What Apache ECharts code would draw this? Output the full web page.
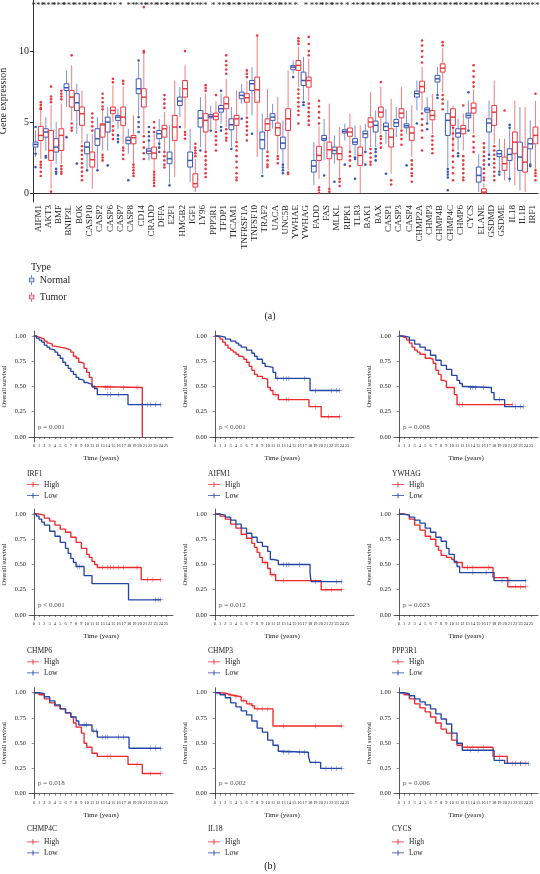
<!DOCTYPE html>
<html><head><meta charset="utf-8">
<script src="https://cdn.jsdelivr.net/npm/echarts@6/dist/echarts.min.js"></script>
<style>html,body{margin:0;padding:0;background:#fff}#c{width:540px;height:874px}</style>
</head><body><div id="c"></div>
<script>
// ---------------- Panel (a): expression boxplots ----------------
const genes = ['AIFM1','AKT3','BMF','BNIP3L','BOK','CASP10','CASP2','CASP6','CASP7','CASP8','CD14','CRADD','DFFA','E2F1','HMGB2','IGF1','LY96','PPP3R1','TFDP1','TICAM1','TNFRSF1A','TNFSF10','TRAF2','UACA','UNC5B','YWHAE','YWHAG','FADD','FAS','MLKL','RIPK1','TLR3','BAK1','BAX','CASP1','CASP3','CASP4','CHMP2A','CHMP3','CHMP4B','CHMP4C','CHMP6','CYCS','ELANE','GSDMD','GSDME','IL18','IL1B','IRF1'];
const significance = ['***','***','***','***','***','***','***','***','*','**','***','***','***','***','***','***','**','*','***','***','***','**','***','***','***','*','*','***','***','***','*','***','***','***','***','***','***','***','***','***','***','***','***','***','***','***','***','**','***'];
// [lower whisker, Q1, median, Q3, upper whisker]
const normalStats = [[2.54,3.24,3.43,3.59,4.41],[3.0,3.94,4.3,4.53,5.35],[2.07,2.89,3.24,3.83,5.0],[6.06,7.23,7.42,7.7,8.64],[4.18,5.82,6.36,7.0,7.7],[1.71,2.77,3.24,3.59,4.18],[1.71,3.36,3.83,4.53,5.35],[3.0,4.3,5.0,5.35,6.06],[4.53,5.12,5.35,5.47,5.94],[2.77,3.47,3.71,3.94,4.53],[5.47,7.0,7.35,8.05,9.2],[2.3,2.77,2.96,3.12,3.6],[3.24,3.83,4.18,4.41,5.23],[0.66,2.07,2.42,2.89,4.77],[5.35,6.17,6.48,6.76,7.46],[0.77,1.83,2.3,2.89,4.53],[3.24,4.65,5.28,5.82,6.76],[4.53,5.3,5.4,5.52,6.17],[4.88,5.7,5.94,6.17,7.0],[3.24,4.46,4.81,5.23,6.06],[6.29,6.64,6.88,7.11,7.7],[5.47,7.23,7.7,7.93,8.87],[1.36,3.12,3.76,4.3,5.59],[4.53,5.12,5.35,5.59,6.29],[2.07,3.12,3.52,3.94,5.12],[8.4,8.69,8.87,8.99,9.34],[6.52,7.58,7.93,8.52,9.58],[0.54,1.48,1.9,2.3,3.59],[2.3,3.71,3.83,4.06,5.23],[2.07,2.77,3.0,3.24,4.06],[3.71,4.23,4.34,4.46,4.88],[2.65,3.43,3.59,3.83,4.77],[3.0,3.9,4.18,4.37,4.88],[3.24,4.3,4.77,5.07,5.82],[3.47,4.41,4.69,4.93,5.94],[3.94,4.69,4.95,5.19,6.06],[4.18,4.6,4.74,4.88,5.82],[5.82,6.76,7.0,7.18,7.93],[5.0,5.7,5.87,6.0,6.76],[7.0,7.82,8.05,8.29,8.87],[1.83,4.06,5.12,5.59,6.52],[3.0,3.94,4.23,4.53,5.23],[4.53,5.3,5.47,5.63,6.52],[0.07,0.77,1.24,1.83,2.77],[2.77,4.3,4.93,5.23,6.52],[1.6,2.58,2.77,3.0,3.83],[0.77,2.3,2.72,3.12,4.6],[0.19,1.6,2.54,3.59,6.06],[2.07,3.12,3.47,3.83,5.12]];
const tumorStats = [[2.4,3.7,4.06,4.7,5.8],[0.3,2.3,3.0,4.4,6.2],[2.07,3.0,4.06,4.53,6.3],[5.1,6.06,6.76,7.23,9.0],[3.47,4.77,5.59,6.06,7.23],[0.3,1.83,2.35,2.89,4.18],[3.0,3.94,4.8,4.88,5.82],[5.0,5.59,5.82,6.06,7.6],[3.47,4.77,5.35,6.06,7.5],[2.07,3.47,3.9,4.06,5.47],[4.18,6.06,6.76,7.35,9.8],[1.6,2.42,2.82,3.24,4.18],[3.0,3.94,4.53,4.77,5.7],[1.13,3.71,4.65,5.47,7.93],[4.53,6.76,7.35,7.93,9.0],[0.07,0.42,0.66,1.36,2.4],[3.0,4.3,5.12,5.59,7.0],[4.41,5.16,5.4,5.63,6.5],[4.65,5.94,6.29,6.76,8.05],[3.71,4.77,5.23,5.47,7.23],[5.47,6.4,6.71,7.0,7.9],[2.54,6.4,7.28,8.17,11.0],[3.0,4.41,4.88,5.23,7.35],[2.77,4.06,4.6,4.93,6.76],[1.6,4.41,5.23,5.94,8.64],[7.46,8.64,8.99,9.34,10.3],[6.52,7.46,7.93,8.17,9.46],[1.0,2.3,2.65,3.29,4.7],[0.42,2.42,3.05,3.59,6.29],[1.13,2.35,2.77,3.24,4.65],[3.0,4.0,4.3,4.58,5.59],[0.0,1.95,2.65,3.24,4.77],[3.24,4.65,5.0,5.3,7.11],[4.18,5.35,5.7,6.06,7.5],[1.36,3.24,3.94,4.53,6.64],[4.53,5.3,5.63,5.94,7.46],[2.54,3.71,4.23,4.65,6.17],[5.82,7.11,7.5,7.88,8.9],[4.18,5.16,5.47,5.82,7.0],[7.11,8.52,8.8,9.1,10.2],[3.0,4.77,5.35,5.94,6.17],[3.0,4.18,4.53,4.77,5.6],[4.18,5.63,5.99,6.34,7.3],[0.0,0.0,0.07,0.3,0.7],[3.47,4.77,5.7,6.17,7.93],[0.9,1.6,2.07,2.54,3.83],[0.54,2.77,3.59,4.3,6.52],[0.07,1.48,2.18,3.24,6.06],[1.71,3.47,4.06,4.65,6.5]];
const normalOutliers = [[4.65,2.77,1.83],[2.5,2.6],[1.7,1.5,1.36],[3.94],[2.07],[1.6],[1.6],[1.95],[4.06,3.8,3.59],[0.9],[9.34,5.35,5.0,4.65,4.3],[4.65,4.3,4.0,3.7],[3.47,3.2,2.89],[0.54],[4.65],[],[3.0],[4.4],[4.65,4.4,7.2],[3.1],[5.23],[4.18],[1.2],[],[2.0,1.8,1.6,1.4],[8.17],[6.4,6.2],[],[1.24],[0.8],[2.0],[2.5,2.4,1.0],[2.9,2.0],[3.1,2.9,2.6,2.3],[1.36],[],[1.95],[4.9],[4.9,4.5],[6.9,6.7],[1.7,1.5,1.3,1.1,0.2],[2.8,2.6],[7.1,4.4],[],[2.7,2.4,2.0],[1.5,1.3],[4.8,4.6,1.0],[],[2.0,1.9]];
const tumorOutliers = [[6.4,6.2,6.0,5.9,2.2,2.0,1.8,1.5,1.2],[7.5,6.8,6.6,6.4,0.1],[7.2,7.0,6.8,6.6,1.9,1.7,1.5,1.36],[9.7,4.9,4.6,4.4],[3.3,3.0,2.7,2.4,2.1,1.8,1.5,1.2,0.9],[5.6,5.3,5.0,4.7,4.4],[7.0,6.7,6.4,6.1,5.9,2.7,2.5,2.3],[8.05,7.8,4.7,4.4,4.1,3.8],[7.9,7.7,3.2,3.0,2.7,2.4],[2.0,1.8,1.6,1.4,1.2],[13.1,10.0,9.9,4.0,3.6,3.2,2.8,2.4],[5.0,4.6,4.3,1.5,1.3,1.1,0.9,0.7,0.5],[6.9,6.6,6.3,6.0,2.9,2.6,2.3,2.0,1.8],[],[10.0,4.3,4.1,3.83],[3.47,3.2,3.0,2.8,2.6],[7.6,7.4,7.2,2.9,2.6,2.3,2.0,1.7,1.4,1.13],[6.9,4.3,4.0,3.7,3.4,3.0],[9.7,9.3,9.0,8.7,8.4,4.5,4.2,3.9,3.7],[3.6,3.3,3.0,2.6,2.2,1.8,1.4,1.1,0.9],[8.64,8.4,8.17,5.3,5.0,4.7,4.4,4.1,3.7],[11.1],[2.9,2.6,2.3,2.0,1.83],[2.6,2.4,2.1],[1.45,1.35],[10.9,10.7,10.5,7.3,7.0,6.7,6.4,6.1,5.8,5.5,4.9],[11.0,10.5,10.0,9.7,6.3,6.0,5.7,5.4,5.1,4.8],[6.5,6.1,5.7,5.3,4.9,0.4,0.2,0.0],[0.3,0.1],[1.0,0.8,0.5],[2.9,2.6,2.3,1.9],[],[3.1,2.8,2.5,2.2,2.0],[7.82,4.0,3.8,3.5,3.2],[0.9,0.6],[4.4,4.1,3.8,3.4],[2.3,2.0,1.7,1.4,1.2,0.8],[10.75,10.4,10.0,9.6,9.2,5.6,5.2,4.8,4.4,3.9,3.0],[4.0,3.7,3.4,3.1,2.8],[10.63,10.4,6.9,6.6,6.3,5.9],[4.6,4.2,3.8,3.4,3.0,2.6,2.2,1.8,1.4,0.9],[6.17,2.6,2.3,2.0,1.7,1.4,1.1,0.9],[9.0,8.6,8.2,7.8,7.5,4.0,3.6,3.2,2.9],[3.5,3.2,2.9,2.6,2.3,2.0,1.7,1.4,1.1,0.9],[3.3,3.0,2.7,2.4,2.1,1.8,1.5,1.2,0.9],[5.82],[],[],[7.0,1.6,1.4,1.2,0.9]];
const exprTicks = [0, 5, 10];

// ---------------- Panel (b): Kaplan-Meier curves ----------------
const kmGenes = ['IRF1','AIFM1','YWHAG','CHMP6','CHMP3','PPP3R1','CHMP4C','IL18','CYCS'];
const kmPValues = ['p = 0.001','p < 0.001','p = 0.008','p < 0.001','p = 0.012','p = 0.023','p = 0.018','p = 0.002','p = 0.006'];
const kmTimeTicks = [0,1,2,3,4,5,6,7,8,9,10,11,12,13,14,15,16,17,18,19,20,21,22,23,24,25];
const kmSurvTicks = [0, 0.25, 0.5, 0.75, 1];

const irf1High = [[0,1],[0.5,0.99],[1,0.98],[1.5,0.97],[2,0.95],[2.5,0.93],[3,0.92],[3.5,0.9],[4,0.89],[5,0.88],[6,0.87],[6.5,0.86],[7,0.84],[7.5,0.8],[8,0.78],[8.5,0.74],[9,0.73],[9.5,0.68],[10,0.64],[10.5,0.59],[11,0.5],[11.2,0.49],[20.5,0]];
const irf1Low = [[0,1],[0.5,0.98],[1,0.96],[1.5,0.94],[2,0.91],[2.5,0.89],[3,0.87],[3.5,0.86],[4,0.84],[4.5,0.81],[5,0.78],[5.5,0.74],[6,0.71],[6.5,0.68],[7,0.65],[7.5,0.62],[8,0.59],[8.5,0.57],[9,0.56],[9.5,0.54],[10,0.53],[10.5,0.52],[11,0.5],[11.5,0.48],[12,0.42],[17.8,0.32],[24,0.32]];
const irf1HighCens = [[11.5,0.49],[13.5,0.49],[14,0.49],[14.5,0.49],[17,0.49],[19.5,0.49]];
const irf1LowCens = [[14,0.42],[14.5,0.42],[16,0.42],[20.5,0.32],[21.5,0.32],[22,0.32],[23,0.32],[24,0.32]];

const aifm1High = [[0,1],[0.5,0.99],[1,0.97],[1.5,0.94],[2,0.91],[2.5,0.88],[3,0.86],[3.5,0.84],[4,0.82],[4.5,0.8],[5,0.79],[5.5,0.77],[6,0.74],[6.5,0.7],[7,0.66],[7.5,0.62],[8,0.6],[9,0.58],[9.5,0.57],[10,0.49],[10.5,0.46],[11,0.42],[12,0.37],[17.8,0.3],[20.1,0.2],[23.6,0.2]];
const aifm1Low = [[0,1],[1,0.99],[2,0.97],[3,0.95],[4,0.93],[4.5,0.91],[5,0.89],[6,0.86],[7,0.83],[7.5,0.8],[8,0.77],[9,0.73],[9.5,0.7],[10,0.69],[11,0.64],[11.5,0.58],[18,0.46],[23.6,0.46]];
const aifm1HighCens = [[11.5,0.42],[13.5,0.37],[14,0.37],[19,0.3],[21.5,0.2],[23.6,0.2]];
const aifm1LowCens = [[11.8,0.58],[13,0.58],[13.5,0.58],[14,0.58],[17,0.58],[19,0.46],[22,0.46],[23,0.46],[23.6,0.46]];

const ywhagHigh = [[0,1],[0.5,0.99],[1,0.98],[1.5,0.96],[2,0.93],[2.5,0.89],[3,0.86],[3.5,0.84],[4,0.82],[5,0.78],[6,0.77],[6.5,0.73],[7,0.66],[7.5,0.62],[8,0.56],[8.5,0.55],[9,0.49],[10.5,0.42],[11,0.32],[21.5,0.32]];
const ywhagLow = [[0,1],[1,0.99],[2,0.96],[3,0.92],[4,0.89],[5,0.86],[6,0.81],[7,0.76],[8,0.71],[9,0.67],[10,0.61],[11,0.56],[11.5,0.53],[12,0.5],[12.5,0.49],[17.5,0.44],[18,0.37],[20,0.3],[23.5,0.3]];
const ywhagHighCens = [[11.5,0.32],[12,0.32],[20,0.32],[21.5,0.32]];
const ywhagLowCens = [[13.5,0.49],[14,0.49],[14.5,0.49],[16,0.49],[19,0.37],[22,0.3],[23,0.3],[23.5,0.3]];

const chmp6High = [[0,1],[1,0.99],[2,0.96],[3,0.93],[4,0.89],[5,0.85],[6,0.82],[7,0.77],[8,0.72],[9,0.66],[10,0.6],[10.5,0.57],[11,0.53],[11.5,0.5],[12,0.47],[20.3,0.35],[24,0.35]];
const chmp6Low = [[0,1],[0.5,0.98],[1,0.95],[1.5,0.92],[2,0.89],[3,0.83],[4,0.78],[5,0.72],[6,0.66],[6.5,0.61],[7,0.56],[7.5,0.52],[8,0.48],[9.5,0.39],[11,0.31],[17.9,0.15],[24,0.15]];
const chmp6HighCens = [[13,0.47],[14,0.47],[14.5,0.47],[15,0.47],[16,0.47],[17,0.47],[19.5,0.47],[21.5,0.35],[22.5,0.35],[24,0.35]];
const chmp6LowCens = [[8.2,0.48],[8.7,0.48],[23,0.15],[23.5,0.15],[24,0.15]];

const chmp3High = [[0,1],[1,0.98],[2,0.95],[3,0.9],[4,0.86],[5,0.8],[6,0.76],[7,0.71],[7.5,0.67],[8,0.62],[8.5,0.57],[9,0.52],[10,0.46],[10.5,0.4],[11.5,0.34],[20.1,0.25],[24,0.25]];
const chmp3Low = [[0,1],[1,0.99],[2,0.97],[3,0.94],[4,0.9],[5,0.86],[6,0.81],[7,0.77],[8,0.72],[9,0.68],[10,0.63],[10.5,0.55],[11,0.54],[12,0.5],[18,0.41],[18.2,0.33],[24,0.33]];
const chmp3HighCens = [[9.5,0.52],[10.8,0.4],[11.2,0.4],[13,0.34],[21,0.25],[22,0.25],[24,0.25]];
const chmp3LowCens = [[13,0.5],[13.5,0.5],[14,0.5],[16,0.5],[19,0.33],[23,0.33],[24,0.33]];

const ppp3r1High = [[0,1],[1,0.99],[2,0.95],[3,0.89],[4,0.84],[5,0.78],[6,0.75],[7,0.68],[7.5,0.64],[8,0.59],[9,0.57],[10,0.55],[10.5,0.52],[12,0.47],[17.8,0.37],[20.6,0.28],[24,0.28]];
const ppp3r1Low = [[0,1],[1,0.99],[2,0.97],[3,0.94],[4,0.91],[5,0.86],[6,0.82],[7,0.77],[8,0.73],[9,0.66],[9.5,0.6],[10.5,0.53],[11,0.48],[11.5,0.42],[18,0.34],[24,0.34]];
const ppp3r1HighCens = [[13,0.47],[14,0.47],[17,0.47],[22,0.28],[23,0.28],[24,0.28]];
const ppp3r1LowCens = [[14,0.42],[16.5,0.42],[19.5,0.34],[21,0.34],[24,0.34]];

const chmp4cHigh = [[0,1],[1,0.98],[2,0.94],[3,0.9],[4,0.87],[5,0.84],[6,0.8],[7,0.76],[7.5,0.7],[8,0.66],[9,0.6],[9.5,0.5],[10,0.46],[11,0.4],[12,0.37],[17.8,0.29],[20.5,0.2],[24,0.2]];
const chmp4cLow = [[0,1],[1,0.99],[2,0.96],[3,0.92],[4,0.88],[5,0.84],[6,0.8],[7,0.76],[8,0.72],[8.5,0.68],[11,0.62],[12,0.56],[18,0.45],[24,0.45]];
const chmp4cHighCens = [[14,0.37],[14.5,0.37],[19.5,0.29],[22,0.2],[24,0.2]];
const chmp4cLowCens = [[9.5,0.68],[10,0.68],[11.3,0.62],[11.8,0.62],[13,0.56],[13.5,0.56],[14,0.56],[16,0.56],[17,0.56],[22,0.45],[23,0.45],[24,0.45]];

const il18High = [[0,1],[1,0.995],[2,0.98],[3,0.97],[4,0.96],[5,0.92],[6,0.89],[7,0.87],[7.5,0.84],[11,0.67],[24,0.67]];
const il18Low = [[0,1],[1,0.98],[2,0.95],[3,0.9],[4,0.86],[5,0.82],[6,0.78],[7,0.72],[8,0.65],[9,0.61],[10,0.53],[11,0.48],[12,0.42],[12.5,0.41],[17.7,0.37],[18,0.31],[20,0.25],[24,0.25]];
const il18HighCens = [[3,0.97],[4,0.96],[5.5,0.92],[6.5,0.89],[7.2,0.87],[8,0.84],[9,0.84],[10,0.84],[13,0.67],[19,0.67],[24,0.67]];
const il18LowCens = [[13,0.41],[14,0.41],[16,0.41],[17,0.41],[19,0.31],[21,0.25],[22,0.25],[23,0.25],[24,0.25]];

const cycsHigh = [[0,1],[1,0.98],[2,0.94],[3,0.89],[4,0.85],[5,0.81],[6,0.76],[7,0.7],[8,0.64],[9,0.6],[10,0.53],[11,0.48],[12,0.46],[17.8,0.37],[20.5,0.3],[24,0.3]];
const cycsLow = [[0,1],[1,0.99],[2,0.97],[3,0.94],[4,0.91],[5,0.88],[6,0.84],[7,0.79],[8,0.74],[9,0.69],[10,0.6],[11,0.5],[12,0.43],[18,0.33],[20,0.3],[24.5,0.3]];
const cycsHighCens = [[13,0.46],[14,0.46],[16,0.46],[19,0.37],[21.5,0.3],[23,0.3],[24,0.3]];
const cycsLowCens = [[13.5,0.43],[15,0.43],[19,0.33],[22,0.3],[23,0.3],[24.5,0.3]];

const kmHigh = [irf1High, aifm1High, ywhagHigh, chmp6High, chmp3High, ppp3r1High, chmp4cHigh, il18High, cycsHigh];
const kmLow = [irf1Low, aifm1Low, ywhagLow, chmp6Low, chmp3Low, ppp3r1Low, chmp4cLow, il18Low, cycsLow];
const kmHighCens = [irf1HighCens, aifm1HighCens, ywhagHighCens, chmp6HighCens, chmp3HighCens, ppp3r1HighCens, chmp4cHighCens, il18HighCens, cycsHighCens];
const kmLowCens = [irf1LowCens, aifm1LowCens, ywhagLowCens, chmp6LowCens, chmp3LowCens, ppp3r1LowCens, chmp4cLowCens, il18LowCens, cycsLowCens];

// ---------------- styling / layout ----------------
const SERIF = "'Liberation Serif','DejaVu Serif',serif";
const TXT = '#222';
const BLUE_BOX = '#3a59b6', RED_BOX = '#e9383d';
const BLUE_WH = '#7f95d2', RED_WH = '#f07f82';
const KM_RED = '#ec2a2e', KM_BLUE = '#2646a6';
const kmCols = [29, 210, 394];
const kmRows = [331, 509, 687.7];
const kmLegendTitleY = [474.3, 651, 829.3];
const kmHighY = [484.3, 661.7, 841.7];
const plusIcon = 'path://M0,2.6H12V3.4H0Z M5.55,0.4H6.45V5.6H5.55Z';
const censorSymbol = 'path://M0,4.6H10V5.4H0Z M4.5,0H5.5V10H4.5Z';
const boxIcon = 'path://M0,4H8V11H0Z M1.2,5.2V9.8H6.8V5.2Z M1,7.1H7V7.9H1Z M3.5,0H4.5V4H3.5Z M3.5,11H4.5V15H3.5Z';

function boxRenderer(dx, stroke, whisker) {
  return function (params, api) {
    const i = api.value(0);
    const lo = api.coord([i, api.value(1)]);
    const q1 = api.coord([i, api.value(2)]);
    const md = api.coord([i, api.value(3)]);
    const q3 = api.coord([i, api.value(4)]);
    const hi = api.coord([i, api.value(5)]);
    const cx = lo[0] + dx, hw = 2.4;
    return { type: 'group', children: [
      { type: 'line', shape: { x1: cx, y1: hi[1], x2: cx, y2: q3[1] }, style: { stroke: whisker, lineWidth: 1 } },
      { type: 'line', shape: { x1: cx, y1: q1[1], x2: cx, y2: lo[1] }, style: { stroke: whisker, lineWidth: 1 } },
      { type: 'rect', shape: { x: cx - hw, y: q3[1], width: hw * 2, height: Math.max(q1[1] - q3[1], 1) }, style: { fill: '#fff', stroke: stroke, lineWidth: 1 } },
      { type: 'line', shape: { x1: cx - hw, y1: md[1], x2: cx + hw, y2: md[1] }, style: { stroke: stroke, lineWidth: 1.5 } }
    ] };
  };
}

const grids = [{ left: 33, top: 0, width: 505, height: 202, outerBoundsMode: 'none' }];
const xAxes = [
  { type: 'category', gridIndex: 0, data: genes,
    axisLine: { lineStyle: { color: '#333', width: 1 } },
    axisTick: { alignWithLabel: true, length: 3, lineStyle: { color: '#333' }, interval: 0 },
    axisLabel: { interval: 0, rotate: 90, fontSize: 9, fontFamily: SERIF, color: TXT, margin: 3 },
    splitLine: { show: false } },
  { type: 'category', gridIndex: 0, position: 'top', data: genes,
    axisLine: { show: false }, axisTick: { show: false }, splitLine: { show: false },
    axisLabel: { inside: true, interval: 0, margin: 1.5, fontSize: 9, fontFamily: SERIF, color: TXT,
      formatter: function (v, i) { return significance[i]; } } }
];
const yAxes = [
  { type: 'value', gridIndex: 0, min: -0.63, max: 13.6,
    name: 'Gene expression', nameLocation: 'middle', nameGap: 15,
    nameTextStyle: { fontSize: 10, fontFamily: SERIF, color: TXT },
    axisLine: { show: true, lineStyle: { color: '#333', width: 1 } },
    axisTick: { show: true, customValues: exprTicks, length: 3, lineStyle: { color: '#333' } },
    axisLabel: { customValues: exprTicks, fontSize: 10, fontFamily: SERIF, color: TXT, margin: 4 },
    splitLine: { show: false } }
];

const series = [
  { type: 'custom', name: 'Normal', xAxisIndex: 0, yAxisIndex: 0, itemStyle: { color: BLUE_BOX },
    renderItem: boxRenderer(-2.6, BLUE_BOX, BLUE_WH), encode: { x: 0, y: [1, 2, 3, 4, 5] },
    data: normalStats.map(function (s, i) { return [i].concat(s); }), z: 2 },
  { type: 'custom', name: 'Tumor', xAxisIndex: 0, yAxisIndex: 0, itemStyle: { color: RED_BOX },
    renderItem: boxRenderer(2.6, RED_BOX, RED_WH), encode: { x: 0, y: [1, 2, 3, 4, 5] },
    data: tumorStats.map(function (s, i) { return [i].concat(s); }), z: 2 },
  { type: 'scatter', name: 'Normal outliers', xAxisIndex: 0, yAxisIndex: 0, symbolSize: 2.6, symbolOffset: [-2.6, 0],
    itemStyle: { color: BLUE_BOX, opacity: 1 }, z: 3, silent: true,
    data: [].concat.apply([], normalOutliers.map(function (arr, i) { return arr.map(function (v) { return [i, v]; }); })) },
  { type: 'scatter', name: 'Tumor outliers', xAxisIndex: 0, yAxisIndex: 0, symbolSize: 2.6, symbolOffset: [2.6, 0],
    itemStyle: { color: RED_BOX, opacity: 1 }, z: 3, silent: true,
    data: [].concat.apply([], tumorOutliers.map(function (arr, i) { return arr.map(function (v) { return [i, v]; }); })) }
];

const legends = [
  { left: 29, top: 275, orient: 'vertical', padding: 0, itemGap: 7, itemWidth: 6, itemHeight: 10,
    selectedMode: false,
    textStyle: { fontFamily: SERIF, fontSize: 10, color: TXT },
    data: [{ name: 'Normal', icon: boxIcon, itemStyle: { color: BLUE_BOX } }, { name: 'Tumor', icon: boxIcon, itemStyle: { color: RED_BOX } }] }
];
const graphics = [
  { type: 'text', x: 31, y: 267, style: { text: 'Type', font: '10px ' + SERIF, fill: TXT, textAlign: 'left', textVerticalAlign: 'middle' } },
  { type: 'text', x: 270, y: 316, style: { text: '(a)', font: '10px ' + SERIF, fill: TXT, textAlign: 'center', textVerticalAlign: 'middle' } },
  { type: 'text', x: 270, y: 866, style: { text: '(b)', font: '10px ' + SERIF, fill: TXT, textAlign: 'center', textVerticalAlign: 'middle' } }
];

kmGenes.forEach(function (gene, k) {
  const col = k % 3, row = Math.floor(k / 3);
  const gi = grids.length;
  grids.push({ left: kmCols[col], top: kmRows[row], width: 144, height: 111, outerBoundsMode: 'none' });
  xAxes.push({ type: 'value', gridIndex: gi, min: -0.9, max: 26.3,
    name: 'Time (years)', nameLocation: 'middle', nameGap: 13,
    nameTextStyle: { fontSize: 7, fontFamily: SERIF, color: TXT },
    axisLine: { lineStyle: { color: '#333', width: 0.8 } },
    axisTick: { customValues: kmTimeTicks, length: 2, lineStyle: { color: '#333', width: 0.6 } },
    axisLabel: { customValues: kmTimeTicks, fontSize: 4.3, fontFamily: SERIF, color: TXT, margin: 2, hideOverlap: false },
    splitLine: { show: false } });
  yAxes.push({ type: 'value', gridIndex: gi, min: -0.05, max: 1.05,
    name: 'Overall survival', nameLocation: 'middle', nameGap: 21,
    nameTextStyle: { fontSize: 6.5, fontFamily: SERIF, color: TXT },
    axisLine: { show: true, lineStyle: { color: '#333', width: 0.8 } },
    axisTick: { show: true, customValues: kmSurvTicks, length: 2, lineStyle: { color: '#333', width: 0.6 } },
    axisLabel: { customValues: kmSurvTicks, fontSize: 6.5, fontFamily: SERIF, color: TXT, margin: 3,
      formatter: function (v) { return v.toFixed(2); } },
    splitLine: { show: false } });
  const xi = xAxes.length - 1, yi = yAxes.length - 1;
  series.push({ type: 'line', name: 'High', xAxisIndex: xi, yAxisIndex: yi, data: kmHigh[k], step: 'end',
    symbol: 'none', showSymbol: false, lineStyle: { color: KM_RED, width: 1.35 }, itemStyle: { color: KM_RED }, silent: true, z: 2 });
  series.push({ type: 'scatter', name: gene + ' High censored', xAxisIndex: xi, yAxisIndex: yi, data: kmHighCens[k],
    symbol: censorSymbol, symbolSize: 5, itemStyle: { color: KM_RED }, silent: true, z: 3 });
  series.push({ type: 'line', name: 'Low', xAxisIndex: xi, yAxisIndex: yi, data: kmLow[k], step: 'end',
    symbol: 'none', showSymbol: false, lineStyle: { color: KM_BLUE, width: 1.35 }, itemStyle: { color: KM_BLUE }, silent: true, z: 4 });
  series.push({ type: 'scatter', name: gene + ' Low censored', xAxisIndex: xi, yAxisIndex: yi, data: kmLowCens[k],
    symbol: censorSymbol, symbolSize: 5, itemStyle: { color: KM_BLUE }, silent: true, z: 5 });
  series.push({ type: 'scatter', name: gene + ' p', xAxisIndex: xi, yAxisIndex: yi, data: [[0.8, 0.1]],
    symbolSize: 0, silent: true,
    label: { show: true, position: 'right', distance: 0, formatter: kmPValues[k], fontSize: 7, fontFamily: SERIF, color: TXT } });
  legends.push({ left: kmCols[col] - 2, top: kmHighY[row] - 3.75, orient: 'vertical', padding: 0, itemGap: 3,
    itemWidth: 12, itemHeight: 6, selectedMode: false,
    textStyle: { fontFamily: SERIF, fontSize: 7.5, color: TXT },
    data: [{ name: 'High', icon: plusIcon, itemStyle: { color: KM_RED } }, { name: 'Low', icon: plusIcon, itemStyle: { color: KM_BLUE } }] });
  graphics.push({ type: 'text', x: kmCols[col] - 2, y: kmLegendTitleY[row],
    style: { text: gene, font: '7.5px ' + SERIF, fill: TXT, textAlign: 'left', textVerticalAlign: 'middle' } });
});

const chart = echarts.init(document.getElementById('c'), null, { renderer: 'canvas' });
chart.setOption({
  animation: false,
  backgroundColor: '#fff',
  grid: grids,
  xAxis: xAxes,
  yAxis: yAxes,
  legend: legends,
  graphic: graphics,
  series: series
});
</script>
</body></html>
